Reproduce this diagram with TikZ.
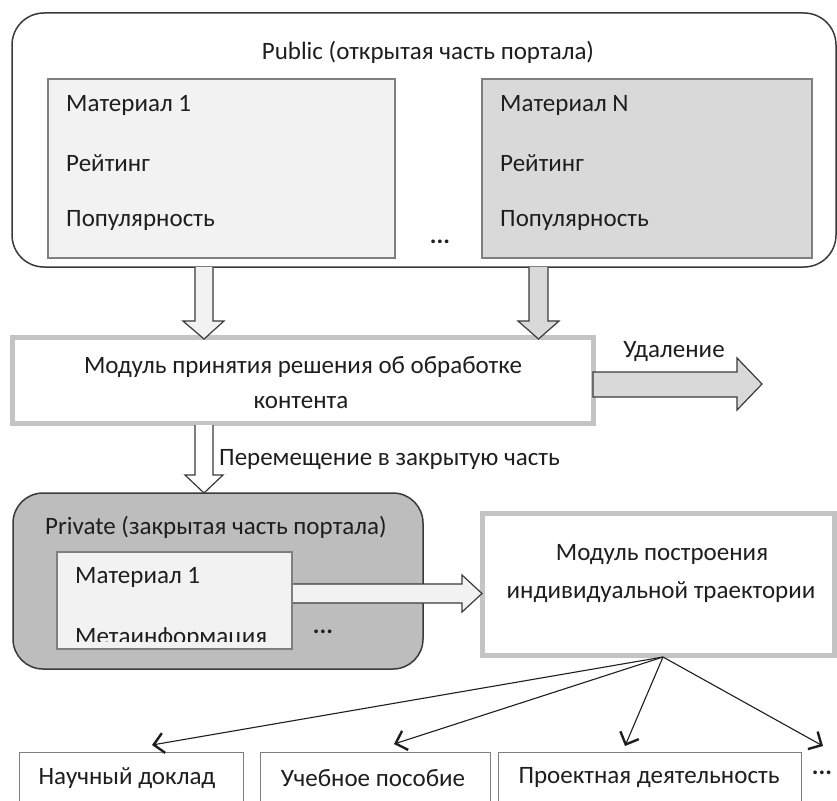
\documentclass[tikz,border=0pt]{standalone}
\usepackage{fontspec}
\setmainfont{Carlito}
\usetikzlibrary{arrows.meta,fit}
\definecolor{ink}{HTML}{1E1E1E}
\definecolor{edge}{HTML}{3A3A3A}
\definecolor{lightfill}{HTML}{F2F2F2}
\definecolor{midfill}{HTML}{D9D9D9}
\definecolor{darkfill}{HTML}{BDBDBD}
\definecolor{softedge}{HTML}{C4C4C4}
\definecolor{boxedge}{HTML}{7F7F7F}
\tikzset{
  txt/.style={font=\fontsize{25}{30}\selectfont, text=ink, inner sep=0pt},
  outerbox/.style={draw=edge, line width=1.5pt, rounded corners=32pt, inner sep=0pt},
  matbox/.style={draw=boxedge, line width=1.2pt, inner sep=0pt},
  modbox/.style={draw=softedge, line width=5pt, fill=white, inner sep=0pt},
  leafbox/.style={draw=boxedge, line width=1pt, inner sep=0pt},
  blockarrow/.style={draw=edge, line width=1.2pt, line join=miter},
  thinarrow/.style={draw=ink, line width=1.1pt, -{Straight Barb[length=10pt,width=20pt,line width=2.4pt]}}
}
\begin{document}
\begin{tikzpicture}[x=1pt,y=-1pt]
\useasboundingbox (0,0) rectangle (837,800);
\clip (0,0) rectangle (837,800);
\fill[white] (0,0) rectangle (837,800);

% Public
\node[outerbox, fill=white, fit={(12,13)(836,267)}] (pub) {};
\node[txt] (pubt) at (428,52) {Public (открытая часть портала)};
\node[matbox, fill=lightfill, fit={(48,79)(395,258)}] (m1) {};
\node[matbox, fill=midfill, fit={(482,79)(812,258)}] (mn) {};
\node[txt, anchor=west] (m1a) at (66,105) {Материал 1};
\node[txt, anchor=west] (m1b) at (66,163) {Рейтинг};
\node[txt, anchor=west] (m1c) at (66,220) {Популярность};
\node[txt, anchor=west] (mna) at (500,105) {Материал N};
\node[txt, anchor=west] (mnb) at (500,163) {Рейтинг};
\node[txt, anchor=west] (mnc) at (500,220) {Популярность};
\node[txt] (pdots) at (440,242) {\textbf{...}};

% Decision module
\node[modbox, fit={(12,337)(593,423)}] (dec) {};
\node[txt] (dec1) at (303,367) {Модуль принятия решения об обработке};
\node[txt] (dec2) at (301,403) {контента};

% down arrows from public
\draw[blockarrow, fill=lightfill] (195,267) -- (195,321) -- (183,321) -- (204,339) -- (224,321) -- (213,321) -- (213,267);
\draw[blockarrow, fill=midfill] (529,267) -- (529,321) -- (518,321) -- (538.5,339) -- (559,321) -- (548,321) -- (548,267);

% deletion
\node[txt] (del) at (674,352) {Удаление};
\draw[blockarrow, fill=midfill] (593,372) -- (737,372) -- (737,358) -- (762,384) -- (737,410) -- (737,397) -- (593,397) -- cycle;

% move arrow
\draw[blockarrow, fill=white] (195,425) -- (195,475) -- (185,475) -- (204,493) -- (223,475) -- (213,475) -- (213,425);
\node[txt, anchor=west] (mv) at (219,460) {Перемещение в закрытую часть};

% Private
\node[outerbox, rounded corners=30pt, fill=darkfill, fit={(13,493)(423,669)}] (priv) {};
\node[txt, anchor=west] (privt) at (45,527) {Private (закрытая часть портала)};
\node[matbox, fill=lightfill, fit={(57,552)(292,649)}] (pm) {};
\node[txt, anchor=west] (pma) at (75,577) {Материал 1};
\begin{scope}
\clip (57,552) rectangle (292,641);
\node[txt, anchor=base west] (pmb) at (75,644) {Метаинформация};
\end{scope}
\node[txt] (pdots2) at (323,632) {\textbf{...}};

% trajectory module
\node[modbox, fit={(482,513)(834,655)}] (traj) {};
\node[txt] (traj1) at (662,555) {Модуль построения};
\node[txt] (traj2) at (661,592) {индивидуальной траектории};
\draw[blockarrow, fill=lightfill] (293,584) -- (462,584) -- (462,575) -- (482,593.5) -- (462,612) -- (462,603) -- (293,603);

% leaves
\node[leafbox, fit={(19,752)(243,812)}] (l1) {};
\node[leafbox, fit={(260,752)(490,812)}] (l2) {};
\node[leafbox, fit={(498,752)(801,812)}] (l3) {};
\node[txt] (l1t) at (127,778) {Научный доклад};
\node[txt] (l2t) at (373,778) {Учебное пособие};
\node[txt] (l3t) at (649,778) {Проектная деятельность};
\node[txt] (l4t) at (822,773) {\textbf{...}};

\coordinate (src) at (663,657);
\coordinate (e1) at (152,745);
\coordinate (e2) at (394,744);
\coordinate (e3) at (625,746);
\coordinate (e4) at (823,746);
\draw[thinarrow] (src) -- (e1);
\draw[thinarrow] (src) -- (e2);
\draw[thinarrow] (src) -- (e3);
\draw[thinarrow] (src) -- (e4);
\end{tikzpicture}
\end{document}
